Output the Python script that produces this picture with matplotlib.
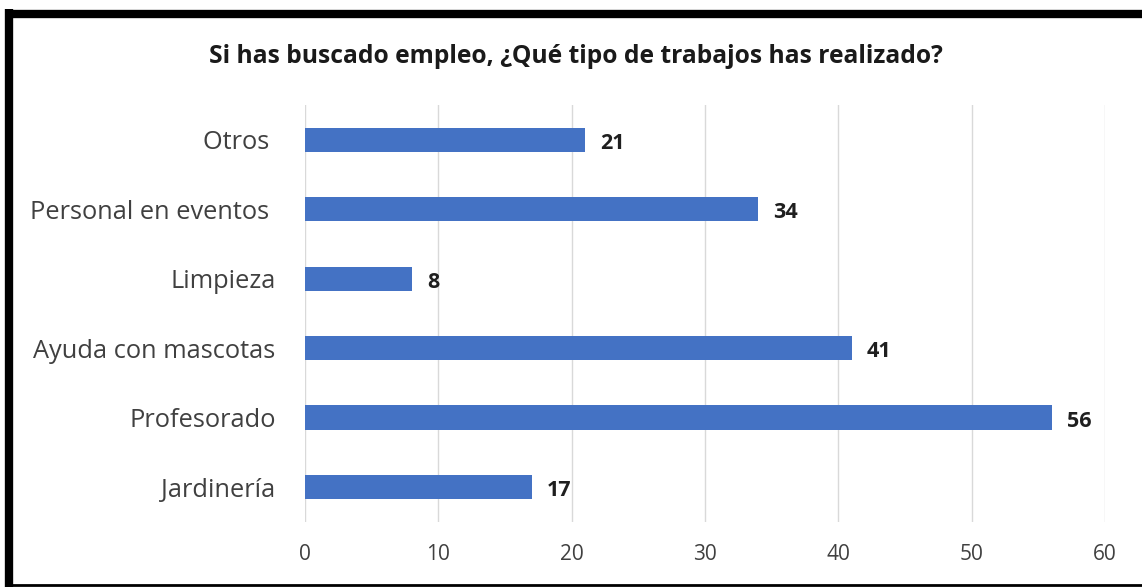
import matplotlib.pyplot as plt
from matplotlib.lines import Line2D

categorias = ['Jardinería', 'Profesorado', 'Ayuda con mascotas', 'Limpieza',
              'Personal en eventos ', 'Otros ']
respuestas = [17, 56, 41, 8, 34, 21]
ticks_x = [0, 10, 20, 30, 40, 50, 60]

plt.rcParams['font.family'] = ['Open Sans', 'DejaVu Sans']

fig = plt.figure(figsize=(11.42, 5.87), dpi=100)
ax = fig.add_axes([0.267, 0.111, 0.7006, 0.710])

pos = range(len(categorias))
barras = ax.barh(pos, respuestas, height=0.35, color='#4472C4', zorder=3)
for b, v in zip(barras, respuestas):
    ax.annotate(str(v), (b.get_width(), b.get_y() + b.get_height() / 2),
                xytext=(11, -2.5), textcoords='offset points', va='center',
                ha='left', fontsize=15.5, fontweight='bold', color='#1f1f1f')

ax.set_xlim(0, 60)
ax.set_ylim(-0.5, len(categorias) - 0.5)
ax.set_xticks(ticks_x)
ax.set_yticks(list(pos))
ax.set_yticklabels(categorias)
ax.tick_params(axis='y', length=0, pad=21, labelsize=18.3, labelcolor='#404040')
ax.tick_params(axis='x', length=0, pad=16, labelsize=15, labelcolor='#404040')
ax.grid(axis='x', color='#D9D9D9', linewidth=1, zorder=0)
for s in ax.spines.values():
    s.set_visible(False)

fig.text(0.504, 0.903, 'Si has buscado empleo, ¿Qué tipo de trabajos has realizado?',
         ha='center', va='center', fontsize=17.7, fontweight='bold', color='#1a1a1a')

# marco negro: arriba, izquierda y abajo
fig.add_artist(Line2D([0.008, 1.0], [0.977, 0.977], color='black', lw=6,
                      solid_capstyle='butt'))
fig.add_artist(Line2D([0.008, 0.008], [0.0, 0.984], color='black', lw=6,
                      solid_capstyle='butt'))
fig.add_artist(Line2D([0.008, 1.0], [0.003, 0.003], color='black', lw=2,
                      solid_capstyle='butt'))

fig.savefig('out.png', dpi=100)
